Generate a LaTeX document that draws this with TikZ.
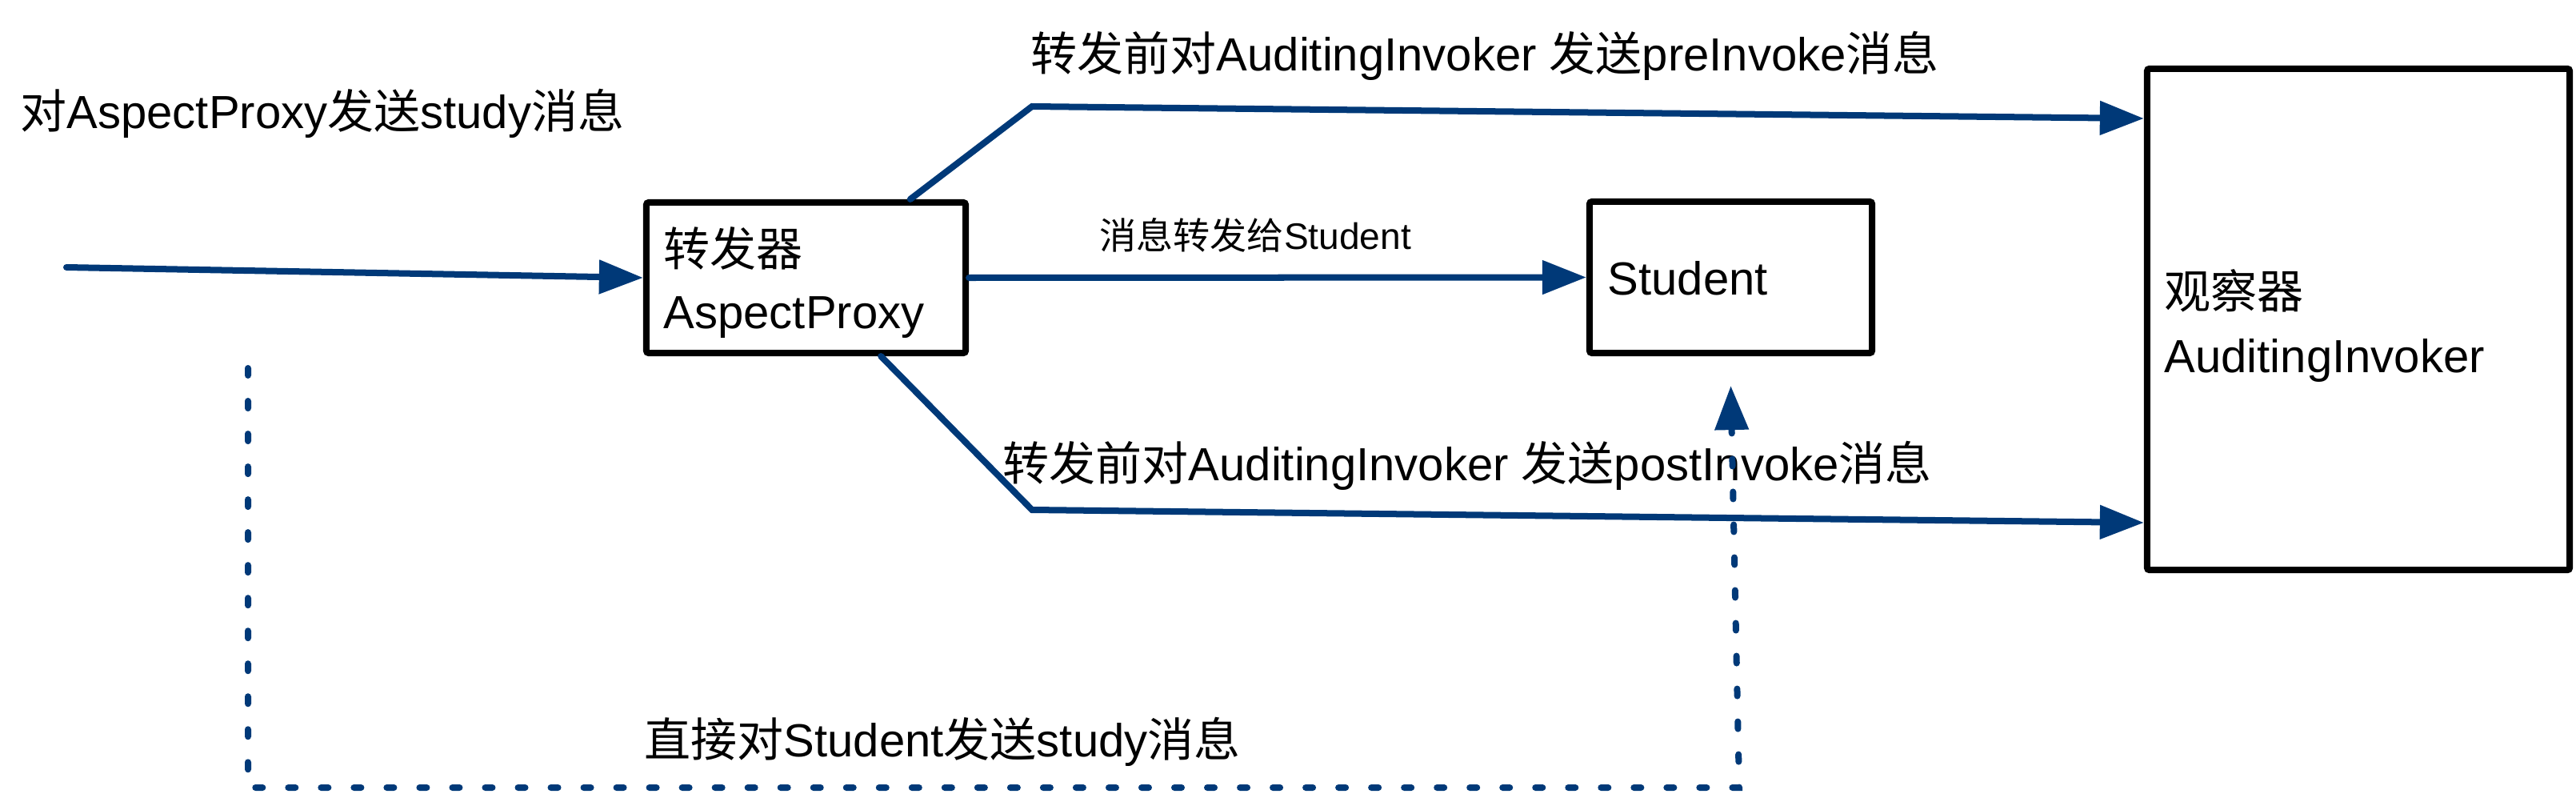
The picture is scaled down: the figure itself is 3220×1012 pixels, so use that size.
\documentclass[tikz,border=0pt]{standalone}
\usepackage{fontspec}
\setmainfont{Liberation Sans}
\newfontfamily\cjk{Noto Sans CJK SC}
\usetikzlibrary{arrows.meta,calc}
\definecolor{lineblue}{RGB}{0,57,120}
\begin{document}
\begin{tikzpicture}[x=0.01cm,y=-0.01cm,
  box/.style={draw=black,line width=0.08cm,rounded corners=0.03cm,fill=white,inner sep=0pt},
  lbl/.style={anchor=base west,inner sep=0pt,font=\fontsize{16.5pt}{20pt}\selectfont},
  smalllbl/.style={anchor=base west,inner sep=0pt,font=\fontsize{13.1pt}{16pt}\selectfont},
  conn/.style={draw=lineblue,line width=0.08cm,line cap=round,-{Triangle[length=0.55cm,width=0.41cm]}},
  dotconn/.style={draw=lineblue,line width=0.08cm,line cap=round,dash pattern=on 0.09cm off 0.32cm,-{Triangle[length=0.55cm,width=0.41cm]}}]
\useasboundingbox (0,0) rectangle (3220,1012);

% boxes
\node[box,minimum width=3.99cm,minimum height=1.88cm] (proxy) at (1007.5,347) {};
\node[box,minimum width=3.53cm,minimum height=1.89cm] (student) at (2163.5,346.5) {};
\node[box,minimum width=5.28cm,minimum height=6.26cm] (obs) at (2948,399) {};

% box texts
\node[lbl] (proxyA) at (829,332) {{\cjk 转发器}};
\node[lbl] (proxyB) at (829,410) {AspectProxy};
\node[lbl] (studentT) at (2009,368) {Student};
\node[lbl] (obsA) at (2705,385) {{\cjk 观察器}};
\node[lbl] (obsB) at (2705,465) {AuditingInvoker};

% labels
\node[lbl] (l1) at (25,160) {{\cjk 对}AspectProxy{\cjk 发送}study{\cjk 消息}};
\node[lbl] (l2) at (1288,88) {{\cjk 转发前对}AuditingInvoker {\cjk 发送}preInvoke{\cjk 消息}};
\node[smalllbl] (l3) at (1374,311) {{\cjk 消息转发给}Student};
\node[lbl] (l4) at (1253,600) {{\cjk 转发前对}AuditingInvoker {\cjk 发送}postInvoke{\cjk 消息}};
\node[lbl] (l5) at (805,945) {{\cjk 直接对}Student{\cjk 发送}study{\cjk 消息}};

% coordinates
\coordinate (inS) at (83,334);
\coordinate (k1) at (1290,133);
\coordinate (h1) at (0,148);
\coordinate (k2) at (1290,637);
\coordinate (h2) at (0,653);
\coordinate (d1) at (310,460);
\coordinate (d2) at (310,984);
\coordinate (d3) at (2174,984);

% connectors
\draw[conn] (inS) -- (proxy.west);
\draw[conn] (proxy.east) -- (student.west);
\draw[conn] ($(proxy.north west)!0.82!(proxy.north east)$) -- (k1) -- (obs.west |- h1);
\draw[conn] ($(proxy.south west)!0.73!(proxy.south east)$) -- (k2) -- (obs.west |- h2);
\draw[dotconn] (d1) -- (d2) -- (d3) -- ($(student.south)+(0,37)$);
\end{tikzpicture}
\end{document}
